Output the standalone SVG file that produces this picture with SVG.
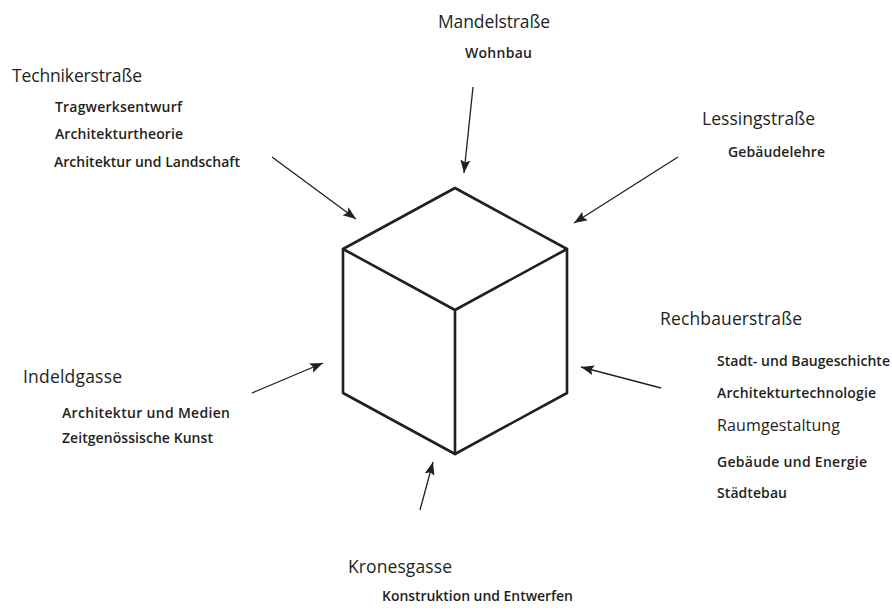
<svg xmlns="http://www.w3.org/2000/svg" width="892" height="610" viewBox="0 0 892 610">
<defs>
<style>
.h{font-family:"Open Sans","Noto Sans","Liberation Sans",sans-serif;font-size:17.5px;fill:#231f20}
.s{font-family:"Open Sans","Noto Sans","Liberation Sans",sans-serif;font-size:14px;font-weight:600;fill:#231f20}
.m{font-family:"Open Sans","Noto Sans","Liberation Sans",sans-serif;font-size:16px;fill:#231f20}
.cube{fill:none;stroke:#231f20;stroke-width:2.6;stroke-linejoin:round;stroke-linecap:round}
.arr{fill:none;stroke:#231f20;stroke-width:1.3;marker-end:url(#ah)}
</style>
<marker id="ah" markerUnits="userSpaceOnUse" markerWidth="14" markerHeight="12" refX="13" refY="5" orient="auto">
<path d="M0,0 L13,5 L0,10 L2.5,5 Z" fill="#231f20"/>
</marker>
</defs>
<rect width="892" height="610" fill="#ffffff"/>
<g id="cube">
<path class="cube" d="M455,188 L567,249 L567,393 L455,454 L343,393 L343,249 Z"/>
<path class="cube" d="M343,249 L455,310 L567,249 M455,310 L455,454"/>
</g>
<g id="connectors">
<line class="arr" x1="272" y1="157" x2="356" y2="219"/>
<line class="arr" x1="473" y1="87" x2="464" y2="173"/>
<line class="arr" x1="678" y1="157" x2="574" y2="223"/>
<line class="arr" x1="661" y1="388" x2="581" y2="367"/>
<line class="arr" x1="252" y1="393" x2="323" y2="363"/>
<line class="arr" x1="420" y1="510" x2="433" y2="462"/>
</g>
<g id="technikerstrasse">
<text class="h" x="12" y="82" textLength="130">Technikerstraße</text>
<text class="s" x="55" y="112" textLength="127">Tragwerksentwurf</text>
<text class="s" x="55" y="139" textLength="128">Architekturtheorie</text>
<text class="s" x="54" y="167" textLength="186">Architektur und Landschaft</text>
</g>
<g id="mandelstrasse">
<text class="h" x="438" y="28" textLength="112">Mandelstraße</text>
<text class="s" x="465" y="58" textLength="67">Wohnbau</text>
</g>
<g id="lessingstrasse">
<text class="h" x="702" y="125" textLength="113">Lessingstraße</text>
<text class="s" x="728" y="157" textLength="97">Gebäudelehre</text>
</g>
<g id="rechbauerstrasse">
<text class="h" x="660" y="325" textLength="142">Rechbauerstraße</text>
<text class="s" x="717" y="366" textLength="173">Stadt- und Baugeschichte</text>
<text class="s" x="717" y="398" textLength="159">Architekturtechnologie</text>
<text class="m" x="717" y="431" textLength="123">Raumgestaltung</text>
<text class="s" x="717" y="467" textLength="150">Gebäude und Energie</text>
<text class="s" x="717" y="498" textLength="70">Städtebau</text>
</g>
<g id="indeldgasse">
<text class="h" x="23" y="383" textLength="99">Indeldgasse</text>
<text class="s" x="62" y="418" textLength="168">Architektur und Medien</text>
<text class="s" x="62" y="443" textLength="151">Zeitgenössische Kunst</text>
</g>
<g id="kronesgasse">
<text class="h" x="348" y="573" textLength="104">Kronesgasse</text>
<text class="s" x="382" y="601" textLength="191">Konstruktion und Entwerfen</text>
</g>
</svg>
